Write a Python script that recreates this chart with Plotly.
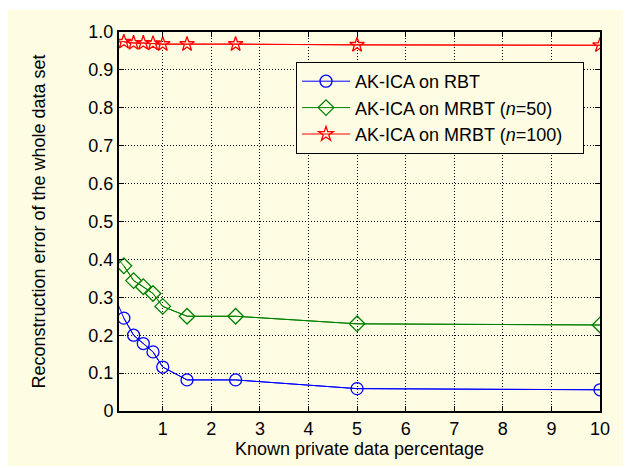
import plotly.graph_objects as go

# Data
x_pct = [0, 0.2, 0.4, 0.6, 0.8, 1.0, 1.5, 2.5, 5, 10]
rbt = [0.305, 0.245, 0.200, 0.178, 0.156, 0.116, 0.082, 0.082, 0.059, 0.056]
mrbt50 = [0.413, 0.383, 0.344, 0.328, 0.310, 0.276, 0.250, 0.250, 0.230, 0.227]
mrbt100 = [0.978, 0.974, 0.971, 0.971, 0.970, 0.968, 0.968, 0.968, 0.966, 0.965]

x_ticks = [1, 2, 3, 4, 5, 6, 7, 8, 9, 10]
y_ticks = [0, 0.1, 0.2, 0.3, 0.4, 0.5, 0.6, 0.7, 0.8, 0.9, 1.0]
y_ticktext = ["0", "0.1", "0.2", "0.3", "0.4", "0.5", "0.6", "0.7", "0.8", "0.9", "1.0"]

names = ["AK-ICA on RBT", "AK-ICA on MRBT (<i>n</i>=50)",
         "AK-ICA on MRBT (<i>n</i>=100)\u00a0\u00a0\u00a0"]
colors = ["#0000ff", "#008000", "#ff0000"]
symbols = ["circle-open", "diamond-open", "star-open"]
sizes = [12, 12, 11]
series = [rbt, mrbt50, mrbt100]

BG = "#fefde4"
FONT = "Liberation Sans, Arial, sans-serif"
FS = 18

fig = go.Figure()
for name, c, sym, sz, ys in zip(names, colors, symbols, sizes, series):
    # full line (including the point left of the visible x-range)
    fig.add_trace(go.Scatter(x=x_pct, y=ys, mode="lines", showlegend=False,
                             line=dict(color=c, width=1), hoverinfo="skip"))
    # markers for the points inside the visible range
    fig.add_trace(go.Scatter(x=x_pct[1:], y=ys[1:], name=name, mode="lines+markers",
                             line=dict(color=c, width=1),
                             marker=dict(symbol=sym, size=sz, color=c,
                                         line=dict(width=1.3, color=c))))

# page body has an 8px margin; figure coordinates = page coordinates - 8
OFF = 8
W, H = 631 - OFF, 468 - OFF
L, T = 119 - OFF, 32 - OFF
R = W - (600 - OFF)
B = H - (411 - OFF)
pw, ph = W - L - R, H - T - B

def px(xp):
    return (xp - OFF - L) / pw

def py(yp):
    return ((H - B) - (yp - OFF)) / ph

fig.add_shape(type="rect", xref="paper", yref="paper",
              x0=px(7), x1=px(625), y0=py(466), y1=py(10),
              fillcolor=BG, line=dict(width=0), layer="below")

axis_common = dict(showline=True, linecolor="black", linewidth=2, mirror="ticks",
                   ticks="inside", ticklen=5, tickwidth=1, tickcolor="black",
                   showgrid=True, gridcolor="black", gridwidth=1, griddash="1px,2px",
                   zeroline=False, automargin=False,
                   tickfont=dict(size=FS, color="black", family=FONT))

fig.update_xaxes(range=[0.1, 10], tickvals=x_ticks,
                 title=dict(text="Known private data percentage",
                            font=dict(size=FS, color="black", family=FONT), standoff=2),
                 **axis_common)
fig.update_yaxes(range=[0, 1], tickvals=y_ticks, ticktext=y_ticktext,
                 title=dict(text="Reconstruction error of the whole data set",
                            font=dict(size=FS, color="black", family=FONT), standoff=38),
                 **axis_common)

fig.update_layout(
    width=W, height=H,
    margin=dict(l=L, r=R, t=T, b=B),
    paper_bgcolor="white", plot_bgcolor=BG,
    font=dict(family=FONT, size=FS, color="black"),
    legend=dict(x=px(296), y=py(108), xanchor="left", yanchor="middle",
                bgcolor=BG, bordercolor="black", borderwidth=1,
                font=dict(size=FS, color="black", family=FONT),
                tracegroupgap=0, itemwidth=48),
    showlegend=True,
)

fig.write_html("out.html")
